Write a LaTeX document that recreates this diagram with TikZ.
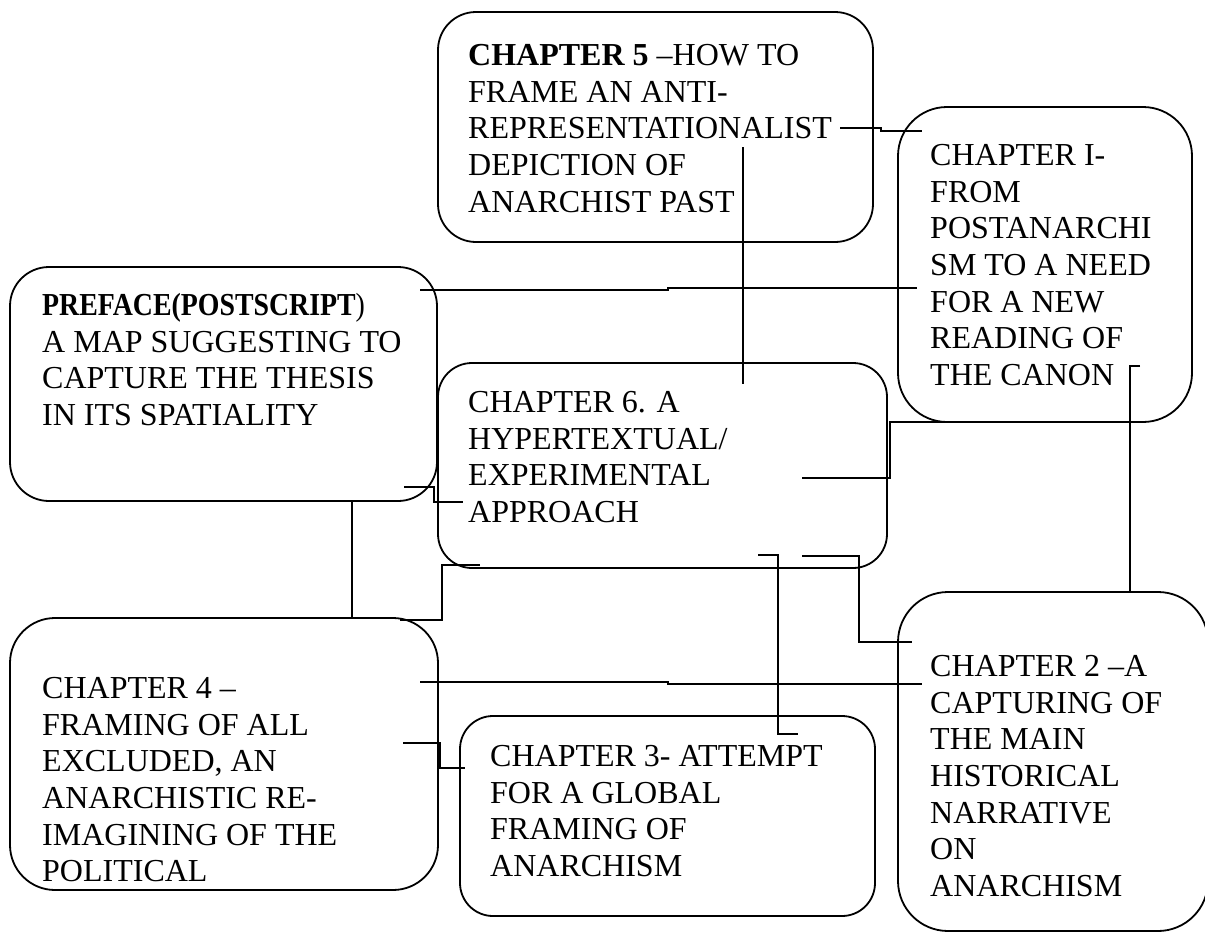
\documentclass[tikz,border=0pt]{standalone}
\usepackage{fontspec}
\setmainfont{Liberation Serif}
\begin{document}
\begin{tikzpicture}[x=1pt,y=-1pt,
  box/.style={draw, line width=1.8pt, rounded corners=#1, inner sep=0pt},
  txt/.style={anchor=north west, inner sep=0pt, align=left, font=\fontsize{32}{36.6}\selectfont},
  link/.style={line width=1.8pt}]
\useasboundingbox (0,0) rectangle (1205,932);
% boxes
\node[box=38pt, minimum width=435pt, minimum height=230pt] (ch5) at (655.5,127) {};
\node[box=49pt, minimum width=294pt, minimum height=315pt] (ch1) at (1045,264.5) {};
\node[box=39pt, minimum width=427pt, minimum height=234pt] (pre) at (223.5,384) {};
\node[box=34pt, minimum width=449pt, minimum height=205pt] (ch6) at (662.5,465.5) {};
\node[box=50pt, minimum width=310pt, minimum height=339pt] (ch2) at (1053,761.5) {};
\node[box=45pt, minimum width=428pt, minimum height=272pt] (ch4) at (224,754) {};
\node[box=33pt, minimum width=415pt, minimum height=200pt] (ch3) at (667.5,816) {};
% texts
\node[txt] (t5) at (468,41.5) {\rule{0pt}{24pt}\textbf{CHAPTER 5} –HOW TO\\FRAME AN ANTI-\\REPRESENTATIONALIST\\DEPICTION OF\\ANARCHIST PAST};
\node[txt] (t1) at (930,141.5) {\rule{0pt}{24pt}CHAPTER I-\\FROM\\POSTANARCHI\\SM TO A NEED\\FOR A NEW\\READING OF\\THE CANON};
\node[txt] (tp) at (42,291.5) {\rule{0pt}{24pt}\scalebox{0.87}[1]{\textbf{PREFACE(POSTSCRIPT})}\\A MAP SUGGESTING TO\\CAPTURE THE THESIS\\IN ITS SPATIALITY};
\node[txt] (t6) at (468,388.5) {\rule{0pt}{24pt}CHAPTER 6. A\\HYPERTEXTUAL/\\EXPERIMENTAL\\APPROACH};
\node[txt] (t2) at (930,652.5) {\rule{0pt}{24pt}CHAPTER 2 –A\\CAPTURING OF\\THE MAIN\\HISTORICAL\\NARRATIVE\\ON\\ANARCHISM};
\node[txt] (t4) at (42,674.5) {\rule{0pt}{24pt}CHAPTER 4 –\\FRAMING OF ALL\\EXCLUDED, AN\\ANARCHISTIC RE-\\IMAGINING OF THE\\POLITICAL};
\node[txt] (t3) at (490,742.5) {\rule{0pt}{24pt}CHAPTER 3- ATTEMPT\\FOR A GLOBAL\\FRAMING OF\\ANARCHISM};
% connectors
\draw[link] (840,128) -- (881,128) -- (881,131) -- (922,131);
\draw[link] (743,147) -- (743,384);
\draw[link] (420,290) -- (668,290) -- (668,288) -- (917,288);
\draw[link] (802,478) -- (890,478) -- (890,422) -- (978,422);
\draw[link] (1140,366) -- (1130,366) -- (1130,592);
\draw[link] (802,556) -- (859,556) -- (859,642) -- (912,642);
\draw[link] (758,555) -- (778,555) -- (778,734) -- (798,734);
\draw[link] (404,487) -- (434,487) -- (434,502) -- (463,502);
\draw[link] (352,502) -- (352,618);
\draw[link] (480,565) -- (442,565) -- (442,620) -- (400,620);
\draw[link] (420,682) -- (668,682) -- (668,684) -- (922,684);
\draw[link] (403,743) -- (440,743) -- (440,768) -- (465,768);
\end{tikzpicture}
\end{document}
